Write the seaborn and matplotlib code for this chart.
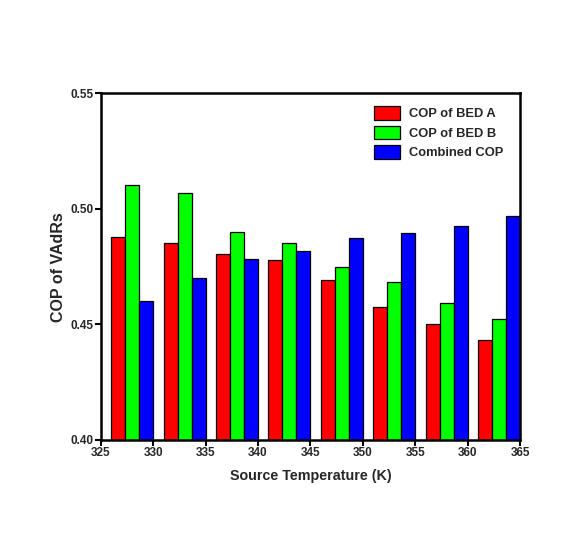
import pandas as pd
import seaborn as sns
import matplotlib.pyplot as plt

# group centres on the source temperature axis (K)
temps = [328, 333, 338, 343, 348, 353, 358, 363]
cop_bed_a = [0.4878, 0.4851, 0.4803, 0.4777, 0.4691, 0.4576, 0.4502, 0.4434]
cop_bed_b = [0.5103, 0.5067, 0.4899, 0.4851, 0.4750, 0.4685, 0.4591, 0.4524]
cop_combined = [0.4603, 0.4700, 0.4785, 0.4818, 0.4873, 0.4897, 0.4927, 0.4968]
series = ["COP of BED A", "COP of BED B", "Combined COP"]
colors = ["#ff0000", "#00ff00", "#0000ff"]

df = pd.DataFrame({
    "temp": temps * 3,
    "cop": cop_bed_a + cop_bed_b + cop_combined,
    "series": [s for s in series for _ in temps],
})

sns.set_style("ticks")
plt.rcParams["font.family"] = ["Liberation Sans", "DejaVu Sans"]

fig = plt.figure(figsize=(5.8, 5.39), dpi=100)
ax = fig.add_axes([0.1736, 0.1837, 0.7230, 0.6432])

sns.barplot(data=df, x="temp", y="cop", hue="series", hue_order=series,
            palette=colors, native_scale=True, width=0.8, dodge=True,
            edgecolor="black", linewidth=0.9, saturation=1, errorbar=None,
            ax=ax)

ax.set_xlim(325, 365)
ax.set_ylim(0.40, 0.55)
ax.set_xticks(range(325, 366, 5))
ax.set_yticks([0.40, 0.45, 0.50, 0.55])
ax.set_yticklabels(["0.40", "0.45", "0.50", "0.55"])
ax.tick_params(axis="both", labelsize=8.5, width=1.5, length=4, pad=1,
               direction="out", color="black")
for lbl in ax.get_xticklabels() + ax.get_yticklabels():
    lbl.set_fontweight("bold")
for side in ["top", "right", "bottom", "left"]:
    ax.spines[side].set_visible(True)
    ax.spines[side].set_linewidth(1.8)
    ax.spines[side].set_color("black")

ax.set_xlabel("Source Temperature (K)", fontsize=10.3, fontweight="bold",
              labelpad=7)
ax.set_ylabel("COP of VAdRs", fontsize=11.5, fontweight="bold", labelpad=3)

ax.legend(loc="upper left", bbox_to_anchor=(0.652, 0.963), frameon=False,
          handlelength=2.0, handleheight=1.25, labelspacing=0.42,
          handletextpad=0.7, borderpad=0, borderaxespad=0,
          prop={"weight": "bold", "size": 9.3})

fig.savefig("out.png", dpi=100)
